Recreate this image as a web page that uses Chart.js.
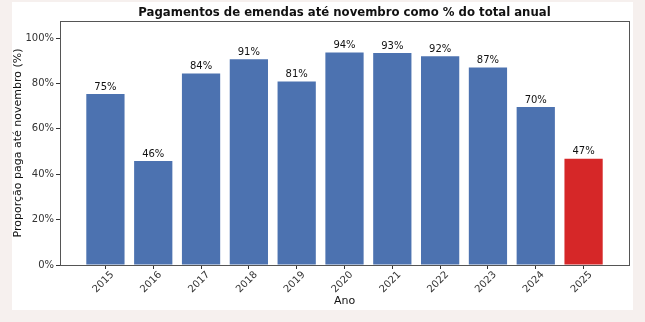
<!DOCTYPE html>
<html>
<head>
<meta charset="utf-8">
<script src="https://cdn.jsdelivr.net/npm/chart.js@4.4.1/dist/chart.umd.min.js"></script>
<style>
  html, body { margin: 0; padding: 0; background: #f6f0ee; }
  #frame { position: absolute; left: 12px; top: 2px; width: 621px; height: 308px; background: #ffffff; }
  canvas { display: block; }
</style>
</head>
<body>
<div id="frame"><canvas id="chart" width="621" height="308"></canvas></div>
<script>
const years = ['2015', '2016', '2017', '2018', '2019', '2020', '2021', '2022', '2023', '2024', '2025'];
const shares = [75.3, 45.8, 84.4, 90.7, 80.8, 93.6, 93.4, 92.0, 87.0, 69.6, 46.8];
const yTicks = [0, 20, 40, 60, 80, 100];
const titleText = 'Pagamentos de emendas até novembro como % do total anual';

const blue = '#4C72B0';
const red = '#D62728';
const barColors = years.map(y => y === '2025' ? red : blue);

// moldura do gráfico + título centrado sobre a área do gráfico
const boxPlugin = {
  id: 'box',
  afterDatasetsDraw(chart) {
    const a = chart.chartArea;
    const ctx = chart.ctx;
    ctx.save();
    ctx.strokeStyle = '#555555';
    ctx.lineWidth = 1;
    ctx.strokeRect(Math.round(a.left) + 0.5, Math.round(a.top) + 0.5, Math.round(a.right - a.left), Math.round(a.bottom - a.top));
    ctx.font = 'bold 11.7px "DejaVu Sans"';
    ctx.fillStyle = '#111111';
    ctx.textAlign = 'center';
    ctx.textBaseline = 'middle';
    ctx.fillText(titleText, (a.left + a.right) / 2, 10.5);
    ctx.restore();
  }
};

// rótulos de valor acima das barras
const valueLabels = {
  id: 'valueLabels',
  afterDatasetsDraw(chart) {
    const ctx = chart.ctx;
    const meta = chart.getDatasetMeta(0);
    ctx.save();
    ctx.font = '10px "DejaVu Sans"';
    ctx.fillStyle = '#111111';
    ctx.textAlign = 'center';
    ctx.textBaseline = 'bottom';
    meta.data.forEach((bar, i) => {
      ctx.fillText(Math.round(shares[i]) + '%', bar.x, bar.y - 2);
    });
    ctx.restore();
  }
};

const ctx = document.getElementById('chart').getContext('2d');
new Chart(ctx, {
  type: 'bar',
  data: {
    datasets: [{
      data: shares.map((v, i) => ({ x: i, y: v })),
      backgroundColor: barColors,
      borderWidth: 0,
      barPercentage: 0.8,
      categoryPercentage: 1
    }]
  },
  options: {
    responsive: false,
    animation: false,
    layout: { padding: { left: 0, right: 4, top: 19, bottom: 0 } },
    plugins: {
      legend: { display: false },
      tooltip: { enabled: false },
      title: { display: false }
    },
    scales: {
      x: {
        type: 'linear',
        offset: false,
        min: -0.95,
        max: 10.95,
        afterBuildTicks(scale) {
          scale.ticks = years.map((y, i) => ({ value: i }));
        },
        afterFit(scale) { scale.height = 45; },
        grid: { offset: false, drawOnChartArea: false, drawTicks: true, tickLength: 4, color: '#333333' },
        border: { display: false },
        ticks: {
          minRotation: 45,
          maxRotation: 45,
          labelOffset: 7,
          padding: 0,
          font: { family: '"DejaVu Sans"', size: 10 },
          color: '#333333',
          callback: v => years[v]
        },
        title: {
          display: true,
          text: 'Ano',
          font: { family: '"DejaVu Sans"', size: 11 },
          color: '#111111',
          padding: { top: 0, bottom: 2 }
        }
      },
      y: {
        min: 0,
        max: 107.5,
        afterBuildTicks(scale) {
          scale.ticks = yTicks.map(v => ({ value: v }));
        },
        afterFit(scale) { scale.width = 48; },
        grid: { drawOnChartArea: false, drawTicks: true, tickLength: 4, color: '#333333' },
        border: { display: false },
        ticks: {
          font: { family: '"DejaVu Sans"', size: 10 },
          color: '#333333',
          padding: 2,
          callback: v => v + '%'
        },
        title: {
          display: true,
          text: 'Proporção paga até novembro (%)',
          font: { family: '"DejaVu Sans"', size: 11 },
          color: '#111111',
          padding: { top: 0, bottom: 2 }
        }
      }
    }
  },
  plugins: [boxPlugin, valueLabels]
});
</script>
</body>
</html>
